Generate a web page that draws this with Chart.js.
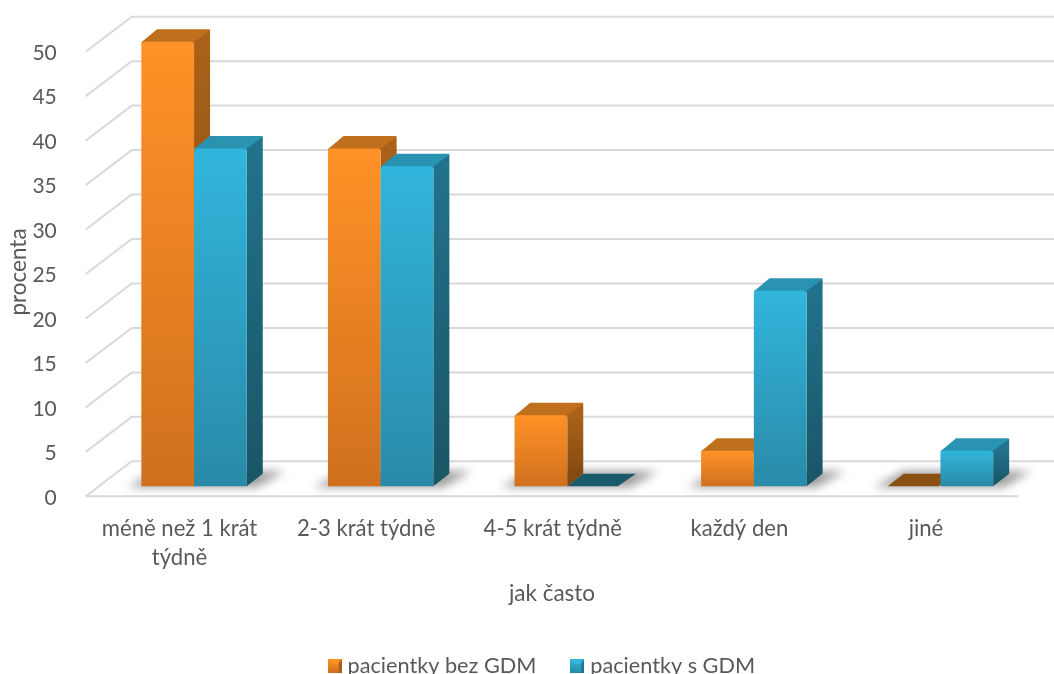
<!DOCTYPE html>
<html>
<head>
<meta charset="utf-8">
<title>Jak často</title>
<script src="https://cdn.jsdelivr.net/npm/chart.js@4/dist/chart.umd.min.js"></script>
<style>
  html, body { margin: 0; padding: 0; background: #fff; overflow: hidden; }
  canvas { display: block; }
</style>
</head>
<body>
<canvas id="mycanvas" width="1054" height="674"></canvas>
<script>
var categories = [["méně než 1 krát", "týdně"], "2-3 krát týdně", "4-5 krát týdně", "každý den", "jiné"];
var bezGdm = [50, 38, 8, 4, 0];
var sGdm = [38, 36, 0, 22, 4];
var seriesNames = ["pacientky bez GDM", "pacientky s GDM"];
var yTitle = "procenta";
var xTitle = "jak často";

var TEXT = "#595959";
var FONT = "Lato";
var GRID = "#d9d9d9";

var orange = {
  light: "#ff9227", dark: "#d0701e",
  sideTop: "#aa6119", sideBottom: "#7d4610",
  top: "#c0701c", flat: "#8a4f12"
};
var blue = {
  light: "#31b5dc", dark: "#2a8aa8",
  sideTop: "#21728c", sideBottom: "#195565",
  top: "#2a93b2", flat: "#195a6b"
};

// depth of a bar, and where the floor edges sit relative to the bar plane
var DEPTH_X = 16, DEPTH_Y = 12.5;
var FRONT_X = -15, FRONT_Y = 10;
var BACK_X = 31, BACK_Y = -25;

function frontGradient(context, colors) {
  var chart = context.chart;
  if (!chart.chartArea) return colors.light;
  var y = chart.scales.y;
  var g = chart.ctx.createLinearGradient(0, y.getPixelForValue(context.raw), 0, y.getPixelForValue(0));
  g.addColorStop(0, colors.light);
  g.addColorStop(1, colors.dark);
  return g;
}

function fillPoly(ctx, pts, fill) {
  ctx.beginPath();
  ctx.moveTo(pts[0][0], pts[0][1]);
  for (var i = 1; i < pts.length; i++) ctx.lineTo(pts[i][0], pts[i][1]);
  ctx.closePath();
  ctx.fillStyle = fill;
  ctx.fill();
}

function drawBarBody(ctx, meta, colors) {
  ctx.save();
  meta.data.forEach(function(bar) {
    var l = bar.x - bar.width / 2, r = bar.x + bar.width / 2;
    if (Math.abs(bar.base - bar.y) < 0.5) {
      fillPoly(ctx, [[l, bar.y], [l + DEPTH_X, bar.y - DEPTH_Y], [r + DEPTH_X, bar.y - DEPTH_Y], [r - 2, bar.y]], colors.flat);
      return;
    }
    var g = ctx.createLinearGradient(0, bar.y, 0, bar.base);
    g.addColorStop(0, colors.sideTop);
    g.addColorStop(1, colors.sideBottom);
    ctx.lineJoin = "round";
    ctx.lineWidth = 2;
    ctx.strokeStyle = colors.top;
    fillPoly(ctx, [[l + 1, bar.y + 1], [l + DEPTH_X, bar.y - DEPTH_Y + 1], [r + DEPTH_X - 1, bar.y - DEPTH_Y + 1], [r, bar.y + 1]], colors.top);
    ctx.stroke();
    fillPoly(ctx, [[r, bar.y], [r + DEPTH_X, bar.y - DEPTH_Y + 1], [r + DEPTH_X, bar.base - DEPTH_Y], [r, bar.base]], g);
  });
  ctx.restore();
}

var wallPlugin = {
  id: "wall",
  afterLayout: function(chart) {
    chart.legend.left += 27;
    chart.legend.right += 27;
    chart.legend.top += 13;
  },
  // wall and floor lines, then the soft shadow under each group of bars
  beforeDatasetsDraw: function(chart) {
    var ctx = chart.ctx, x = chart.scales.x, y = chart.scales.y;
    ctx.save();
    ctx.strokeStyle = GRID;
    ctx.lineWidth = 2;
    y.ticks.forEach(function(tick) {
      var py = y.getPixelForValue(tick.value);
      ctx.beginPath();
      ctx.moveTo(x.left + FRONT_X, py + FRONT_Y);
      ctx.lineTo(x.left + BACK_X, py + BACK_Y);
      ctx.lineTo(chart.width, py + BACK_Y);
      ctx.stroke();
    });
    var py0 = y.getPixelForValue(0);
    ctx.beginPath();
    ctx.moveTo(x.left + FRONT_X, py0 + FRONT_Y);
    ctx.lineTo(x.right + FRONT_X, py0 + FRONT_Y);
    ctx.stroke();

    var first = chart.getDatasetMeta(0), second = chart.getDatasetMeta(1);
    ctx.filter = "blur(5px)";
    first.data.forEach(function(bar, i) {
      var l = bar.x - bar.width / 2;
      var r = second.data[i].x + second.data[i].width / 2;
      fillPoly(ctx, [[l - 14, py0 + 1], [r + 10, py0 + 1], [r + 38, py0 - 15], [l + 16, py0 - 15]], "rgba(60,60,60,0.5)");
    });
    ctx.restore();

    // left series first, so its side stays behind the next series' front
    drawBarBody(ctx, first, orange);
    first.controller.draw();
    drawBarBody(ctx, second, blue);
    second.controller.draw();
  },
  beforeDatasetDraw: function() {
    return false;
  },
  afterDraw: function(chart) {
    var ctx = chart.ctx;
    ctx.save();
    ctx.fillStyle = TEXT;
    ctx.font = "22.5px " + FONT;
    ctx.textAlign = "center";
    ctx.textBaseline = "middle";
    ctx.fillText(xTitle, 552, 594);
    ctx.translate(19, 272);
    ctx.rotate(-Math.PI / 2);
    ctx.fillText(yTitle, 0, 0);
    ctx.restore();
  }
};

function swatch(colors) {
  var c = document.createElement("canvas");
  c.width = 14;
  c.height = 14;
  var s = c.getContext("2d");
  var g = s.createLinearGradient(0, 0, 0, 14);
  g.addColorStop(0, colors.light);
  g.addColorStop(1, colors.dark);
  s.fillStyle = g;
  s.fillRect(0, 0, 14, 14);
  fillPoly(s, [[0, 0], [14, 0], [10, 5], [4, 5]], colors.light);
  fillPoly(s, [[14, 0], [14, 14], [11, 14], [11, 4]], colors.sideTop);
  return c;
}

var chartdata = {
  labels: categories,
  datasets: [
    {
      label: seriesNames[0],
      data: bezGdm,
      borderRadius: 3,
      backgroundColor: function(context) { return frontGradient(context, orange); }
    },
    {
      label: seriesNames[1],
      data: sGdm,
      borderRadius: 3,
      backgroundColor: function(context) { return frontGradient(context, blue); }
    }
  ]
};

var LineGraph = new Chart(document.getElementById("mycanvas"), {
  type: "bar",
  data: chartdata,
  plugins: [wallPlugin],
  options: {
    responsive: false,
    animation: false,
    categoryPercentage: 0.565,
    barPercentage: 1,
    layout: { padding: { top: 41.7, right: 20.25, left: 0, bottom: 0 } },
    plugins: {
      tooltip: { enabled: false },
      legend: {
        position: "bottom",
        labels: {
          color: TEXT,
          font: { family: FONT, size: 21.7 },
          usePointStyle: true,
          boxWidth: 4,
          boxHeight: 14,
          padding: 39,
          generateLabels: function() {
            return [
              { text: seriesNames[0], pointStyle: swatch(orange), datasetIndex: 0, fontColor: TEXT, lineWidth: 0 },
              { text: seriesNames[1], pointStyle: swatch(blue), datasetIndex: 1, fontColor: TEXT, lineWidth: 0 }
            ];
          }
        }
      }
    },
    scales: {
      x: {
        grid: { display: false },
        border: { display: false },
        afterFit: function(scale) {
          scale.height = 117;
          scale.paddingLeft = 0;
          scale.paddingRight = 0;
        },
        ticks: {
          color: TEXT,
          font: { family: FONT, size: 22.1, lineHeight: 1.31 },
          labelOffset: -14.5,
          padding: 20,
          autoSkip: false,
          maxRotation: 0
        }
      },
      y: {
        min: 0,
        max: 50,
        grid: { display: false },
        border: { display: false },
        afterFit: function(scale) {
          scale.width = 100.75;
          scale.paddingTop = 0;
          scale.paddingBottom = 0;
        },
        ticks: {
          color: TEXT,
          font: { family: FONT, size: 21 },
          stepSize: 5,
          padding: 36,
          labelOffset: 11.5
        }
      }
    }
  }
});
</script>
</body>
</html>
